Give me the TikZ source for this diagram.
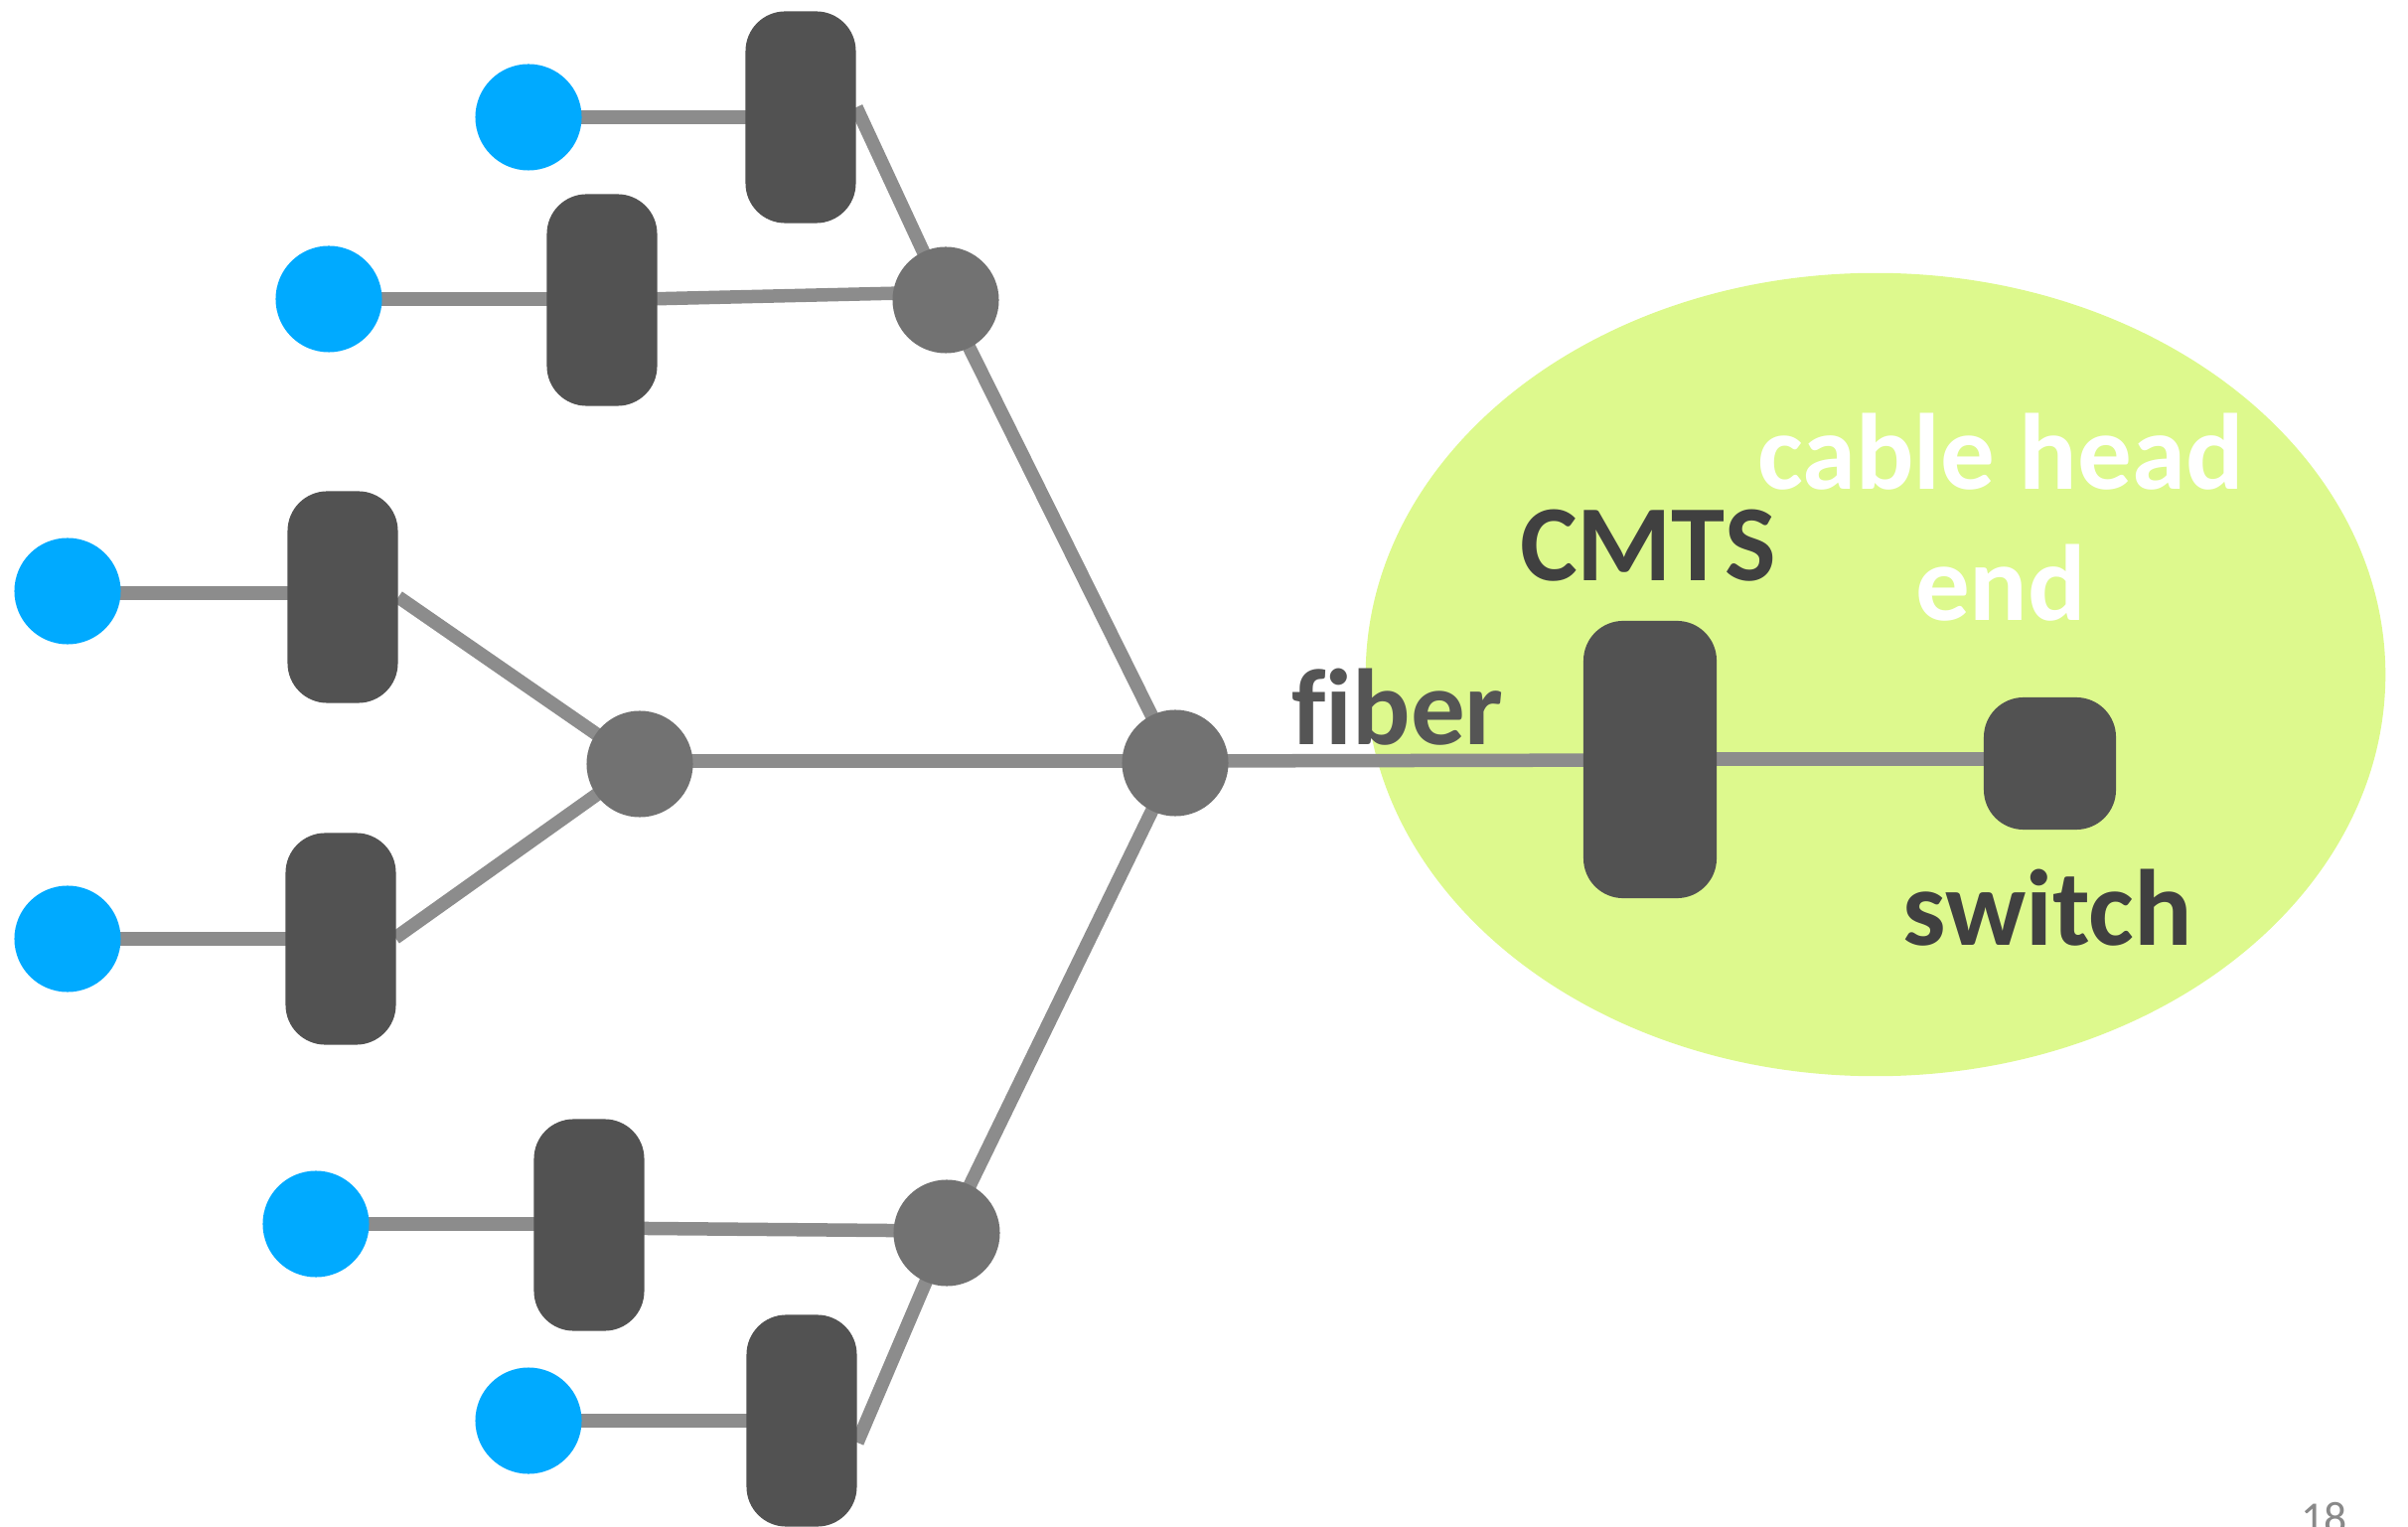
\documentclass[tikz,border=0pt]{standalone}
\usepackage{fontspec}
\setmainfont{Carlito}[Ligatures=NoCommon]
\definecolor{custblue}{HTML}{00AAFF}
\definecolor{boxgray}{HTML}{525252}
\definecolor{hubgray}{HTML}{727272}
\definecolor{wiregray}{HTML}{8C8C8C}
\definecolor{headgreen}{HTML}{DDF98D}
\definecolor{labeldark}{HTML}{404040}
\definecolor{labelmid}{HTML}{555555}
\definecolor{pagegray}{HTML}{898989}
\tikzset{
  home/.style={circle, fill=custblue, minimum size=1.07cm, inner sep=0pt},
  hub/.style={circle, fill=hubgray, minimum size=1.07cm, inner sep=0pt},
  amp/.style={rectangle, rounded corners=0.4cm, fill=boxgray, minimum width=1.11cm, minimum height=2.13cm, inner sep=0pt},
  wire/.style={draw=wiregray, line width=0.135cm},
  lbl/.style={inner sep=0pt, anchor=base, font=\fontsize{31}{37}\selectfont\bfseries}
}
\begin{document}
\begin{tikzpicture}[x=0.01cm, y=-0.01cm]
\useasboundingbox (0,0) rectangle (2424,1537);

% head-end region
\fill[headgreen] (1888,679) ellipse [x radius=5.13cm, y radius=4.04cm];

% coordinates where slanted wires meet the amplifier edges
\coordinate (r1c) at (862,108);
\coordinate (r6c) at (863,1452);

% wires (drawn first so the nodes sit on top)
\draw[wire] (532,118) -- (806,118);
\draw[wire] (331,301) -- (606,301);
\draw[wire] (68,597) -- (345,597);
\draw[wire] (68,945) -- (343,945);
\draw[wire] (318,1232) -- (593,1232);
\draw[wire] (532,1430) -- (807,1430);

\draw[wire] (r1c) -- (952,302) -- (1183,768);
\draw[wire] (606,302) -- (952,294);
\draw[wire] (401,601) -- (644,769);
\draw[wire] (398,944) -- (644,769);
\draw[wire] (644,766) -- (1183,766);
\draw[wire] (593,1236) -- (953,1239);
\draw[wire] (r6c) -- (953,1241) -- (1183,768);
\draw[wire] (1183,766) -- (1661,765);
\draw[wire] (1661,764) -- (2063,764);

% customer premises
\node[home] (b1) at (532,118) {};
\node[home] (b2) at (331,301) {};
\node[home] (b3) at (68,595) {};
\node[home] (b4) at (68,945) {};
\node[home] (b5) at (318,1232) {};
\node[home] (b6) at (532,1430) {};

% amplifiers
\node[amp] (r1) at (806,118) {};
\node[amp] (r2) at (606,302) {};
\node[amp] (r3) at (345,601) {};
\node[amp] (r4) at (343,945) {};
\node[amp] (r5) at (593,1233) {};
\node[amp] (r6) at (807,1430) {};

% splitters
\node[hub] (g1) at (952,302) {};
\node[hub] (g2) at (644,769) {};
\node[hub] (g3) at (1183,768) {};
\node[hub] (g4) at (953,1241) {};

% CMTS and switch
\node[rectangle, rounded corners=0.4cm, fill=boxgray, minimum width=1.34cm, minimum height=2.79cm, inner sep=0pt] (cmts) at (1661,764.5) {};
\node[rectangle, rounded corners=0.4cm, fill=boxgray, minimum width=1.33cm, minimum height=1.33cm, inner sep=0pt] (sw) at (2063.5,768.5) {};

% labels
\node[lbl, text=white] (tcable) at (2014,493) {cable head};
\node[lbl, text=white] (tend) at (2014,625) {end};
\node[lbl, text=labeldark] (tcmts) at (1659,585) {CMTS};
\node[lbl, text=labelmid] (tfiber) at (1407,750) {fiber};
\node[lbl, text=labeldark] (tsw) at (2061,951) {switch};
\node[inner sep=0pt, anchor=north west, text=pagegray, font=\fontsize{13}{15}\selectfont] (pg) at (2316,1512) {18};
\end{tikzpicture}
\end{document}
